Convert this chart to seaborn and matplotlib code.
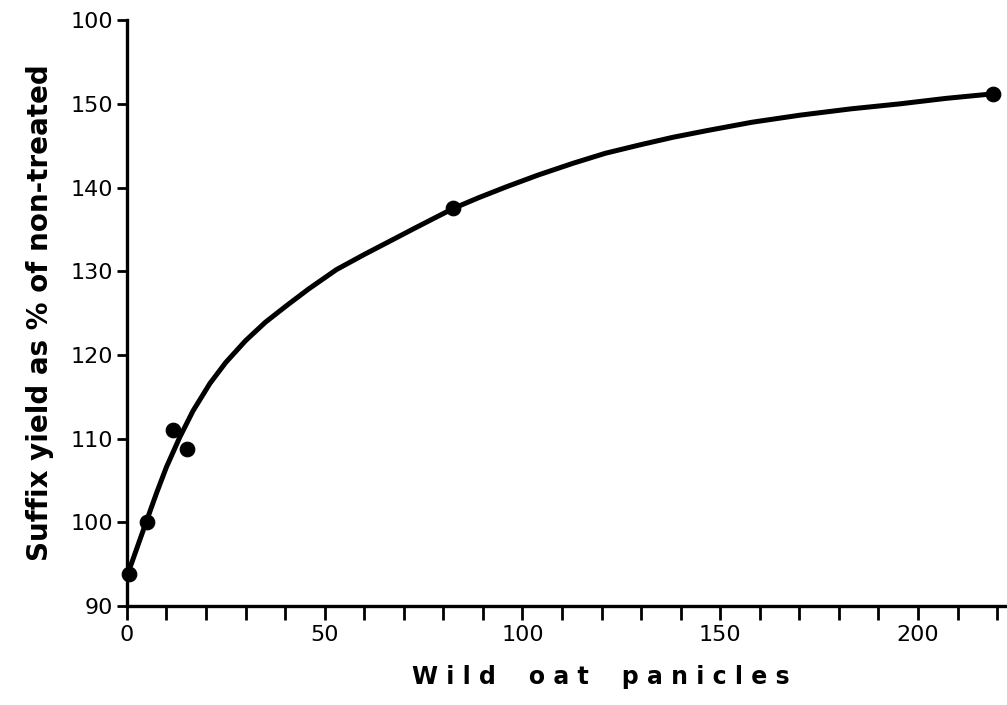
import numpy as np
import pandas as pd
import matplotlib
matplotlib.use("Agg")
import matplotlib.pyplot as plt
import seaborn as sns

# Observed points: wild oat panicles vs Suffix yield (% of non-treated)
panicles = [0.6, 5.0, 11.6, 15.1, 82.5, 219.0]
yield_pct = [93.8, 100.0, 111.0, 108.8, 137.5, 151.2]

# Fitted response curve
curve_x = [0.8, 5.0, 7.5, 10.0, 13.4, 16.7, 21.0, 25.0, 30.0, 35.0, 40.4, 46.0,
           53.0, 60.0, 65.7, 73.0, 82.5, 89.0, 96.0, 104.0, 112.8, 121.0,
           129.7, 138.0, 146.6, 158.0, 170.2, 183.0, 195.4, 207.0, 219.0]
curve_y = [94.6, 100.2, 103.5, 106.6, 110.2, 113.3, 116.6, 119.1, 121.7, 123.9, 125.9, 127.9,
           130.2, 132.0, 133.4, 135.2, 137.5, 138.8, 140.1, 141.5, 142.9, 144.1,
           145.1, 146.0, 146.8, 147.8, 148.65, 149.4, 150.0, 150.65, 151.2]

# y tick labels as printed on the original (top one reads "100")
y_ticks = [90, 100, 110, 120, 130, 140, 150, 160]
y_tick_labels = ["90", "100", "110", "120", "130", "140", "150", "100"]
x_ticks = [0, 50, 100, 150, 200]

sns.set_style("ticks")
plt.rcParams['font.family'] = ['DejaVu Sans']
plt.rcParams['text.color'] = 'black'
plt.rcParams['axes.labelcolor'] = 'black'
plt.rcParams['xtick.color'] = 'black'
plt.rcParams['ytick.color'] = 'black'
plt.rcParams['axes.edgecolor'] = 'black'

pts = pd.DataFrame({'panicles': panicles, 'yield': yield_pct})
crv = pd.DataFrame({'panicles': curve_x, 'yield': curve_y})

fig = plt.figure(figsize=(10.07, 7.05), dpi=100)
ax = fig.add_axes([0.126, 0.1404, 0.872, 0.831])

sns.lineplot(data=crv, x='panicles', y='yield', ax=ax, color='black',
             linewidth=3.6, sort=True, solid_joinstyle='round',
             solid_capstyle='round')
sns.scatterplot(data=pts, x='panicles', y='yield', ax=ax, color='black',
                s=110, edgecolor='black', zorder=3, clip_on=False)

ax.set_xlim(0, 222)
ax.set_ylim(90, 160)

ax.set_xticks(x_ticks)
ax.set_xticks(np.arange(0, 221, 10), minor=True)
ax.set_yticks(y_ticks)
ax.set_yticklabels(y_tick_labels)

ax.tick_params(axis='x', which='both', direction='out', length=10, width=2,
               labelsize=16, pad=4)
ax.tick_params(axis='y', which='major', direction='out', length=7, width=2,
               labelsize=16, pad=3)

for side in ['top', 'right']:
    ax.spines[side].set_visible(False)
for side in ['left', 'bottom']:
    ax.spines[side].set_linewidth(2.4)

ax.set_xlabel("W i l d    o a t    p a n i c l e s", fontsize=17,
              fontweight='bold')
ax.xaxis.set_label_coords(0.54, -0.1)
ax.set_ylabel("Suffix yield as % of non-treated", fontsize=20,
              fontweight='bold', labelpad=12)

fig.savefig("out.png", dpi=100, facecolor='white')
